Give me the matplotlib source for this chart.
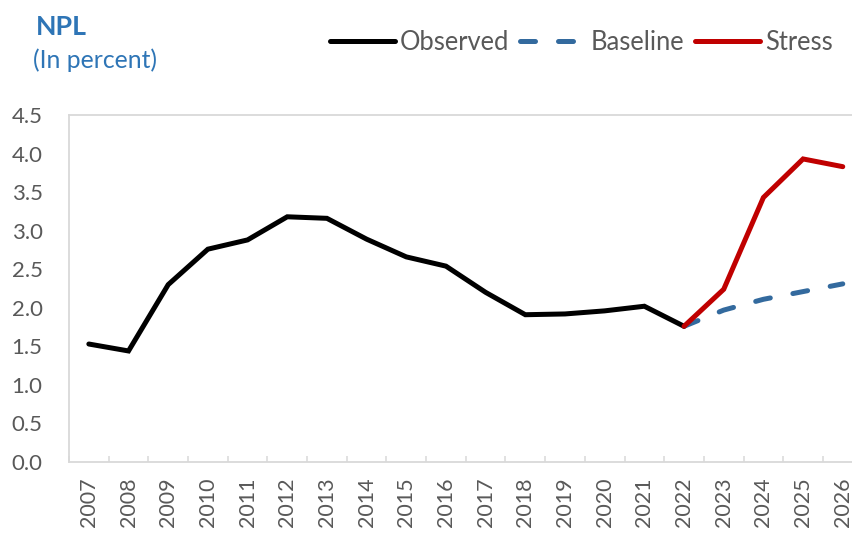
import numpy as np
import matplotlib.pyplot as plt
from matplotlib.lines import Line2D

# data
years = [2007, 2008, 2009, 2010, 2011, 2012, 2013, 2014, 2015, 2016,
         2017, 2018, 2019, 2020, 2021, 2022, 2023, 2024, 2025, 2026]
observed = [1.53, 1.44, 2.30, 2.76, 2.88, 3.18, 3.16, 2.89, 2.66, 2.54,
            2.20, 1.91, 1.92, 1.96, 2.02, 1.76]
baseline_years = [2022, 2023, 2024, 2025, 2026]
baseline = [1.76, 1.97, 2.11, 2.21, 2.31]
stress_years = [2022, 2023, 2024, 2025, 2026]
stress = [1.76, 2.24, 3.43, 3.93, 3.83]
yticks = [0.0, 0.5, 1.0, 1.5, 2.0, 2.5, 3.0, 3.5, 4.0, 4.5]

plt.rcParams['font.family'] = ['Lato', 'DejaVu Sans']
grey_txt = "#595959"
axis_grey = "#D9D9D9"
title_blue = "#2E75B6"
base_blue = "#336A9E"
red = "#C00000"

fig = plt.figure(figsize=(8.52, 5.33), dpi=100)
ax = fig.add_axes([69/852, 71/533, 793.6/852, 347/533])

idx = {y: i for i, y in enumerate(years)}
x_obs = [idx[y] for y in years[:len(observed)]]
x_base = [idx[y] for y in baseline_years]
x_str = [idx[y] for y in stress_years]

ax.plot(x_obs, observed, color="black", lw=3.6, solid_capstyle="round",
        solid_joinstyle="miter", zorder=3)
ax.plot(x_base, baseline, color=base_blue, lw=3.6, dashes=(3.0, 4.6),
        dash_capstyle="round", zorder=2)
ax.plot(x_str, stress, color=red, lw=3.6, solid_capstyle="round",
        solid_joinstyle="miter", zorder=4)

ax.set_xlim(-0.5, len(years) - 0.5)
ax.set_ylim(0, 4.5)
ax.set_yticks(yticks)
ax.set_yticklabels([f"{v:.1f}" for v in yticks])
ax.set_xticks(range(len(years)))
ax.set_xticklabels([str(y) for y in years], rotation=90)
ax.set_xticks(np.arange(-0.5, len(years), 1.0), minor=True)

ax.tick_params(axis="y", length=0, pad=19, labelsize=16, labelcolor=grey_txt)
ax.tick_params(axis="x", which="major", length=0, pad=11, labelsize=15.5,
               labelcolor=grey_txt)
ax.tick_params(axis="x", which="minor", direction="in", length=4.5,
               width=1.1, color=axis_grey)

for s in ax.spines.values():
    s.set_color(axis_grey)
    s.set_linewidth(1.3)

fig.text(36/852, 1 - 35/533, "NPL", fontsize=19.3, fontweight="bold",
         color=title_blue, va="baseline", ha="left")
fig.text(33/852, 1 - 68/533, "(In percent)", fontsize=17.8,
         color=title_blue, va="baseline", ha="left")

handles = [
    Line2D([], [], color="black", lw=3.6, solid_capstyle="round"),
    Line2D([], [], color=base_blue, lw=3.6, dashes=(3.0, 4.6),
           dash_capstyle="round"),
    Line2D([], [], color=red, lw=3.6, solid_capstyle="round"),
]
leg = fig.legend(handles, ["Observed", "Baseline", "Stress"], ncol=3,
                 loc="center right", bbox_to_anchor=(1.005, 1 - 42/533),
                 frameon=False, fontsize=18.4, handlelength=2.55,
                 handletextpad=0.2, columnspacing=0.43)
for t in leg.get_texts():
    t.set_color(grey_txt)

fig.savefig("out.png", dpi=100)
